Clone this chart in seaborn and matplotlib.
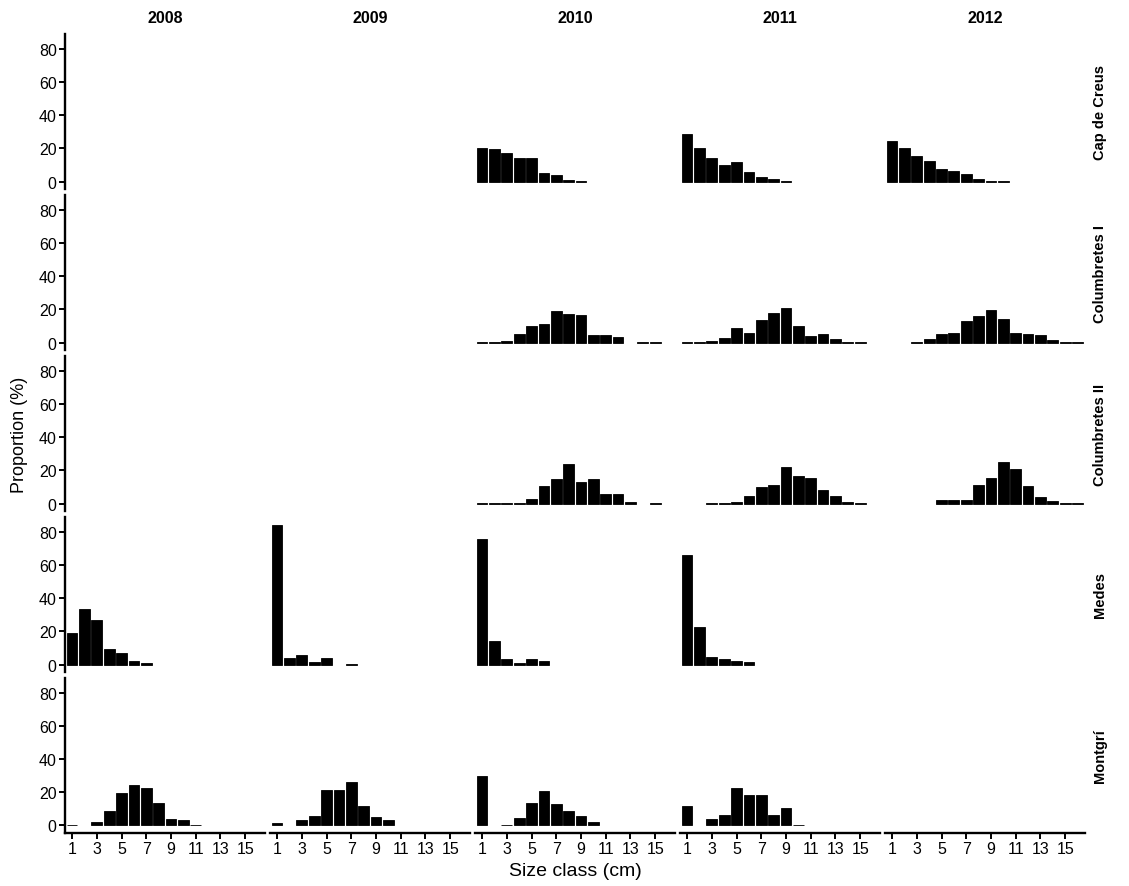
import numpy as np
import pandas as pd
import matplotlib
matplotlib.use("Agg")
import matplotlib.pyplot as plt
import seaborn as sns

nan = np.nan

sites = ["Cap de Creus", "Columbretes I", "Columbretes II", "Medes", "Montgrí"]
years = [2008, 2009, 2010, 2011, 2012]
xtick_labels = [1, 3, 5, 7, 9, 11, 13, 15]
ytick_labels = [0, 20, 40, 60, 80]

# proportion (%) per size class, starting at class 1 (nan = no bar)
cdc_2010 = [20, 19.5, 17.5, 14, 14, 5, 4, 1, 0.5]
cdc_2011 = [28.5, 20, 14, 10, 12, 6, 2.6, 1.6, 0.4]
cdc_2012 = [24.6, 20, 15.6, 12.4, 7.6, 6.2, 4.6, 1.4, 0.4, 0.2]

col1_2010 = [0.3, 0.3, 1, 5.2, 10, 11, 19, 17.4, 16.8, 4.4, 4.4, 3.4, nan, 0.3, 0.3]
col1_2011 = [0.3, 0.3, 1, 2.8, 8.8, 5.8, 13.8, 17.8, 20.8, 9.8, 4, 5, 2, 0.3, 0.3]
col1_2012 = [nan, nan, 0.3, 2, 5.4, 5.8, 13, 15.8, 19.4, 14.4, 5.8, 5, 4.4, 1.8, 0.3, 0.3]

col2_2010 = [0.3, 0.3, 0.3, 0.3, 3, 10.4, 15, 24, 13, 15, 5.8, 5.8, 1, nan, 0.3]
col2_2011 = [nan, nan, 0.3, 0.3, 0.8, 4.6, 10, 11.4, 22, 16.6, 15.6, 8.2, 4.6, 1.2, 0.3]
col2_2012 = [nan, nan, nan, nan, 2.4, 2.4, 2.4, 11.4, 15.6, 25, 20.6, 10.4, 4, 1.4, 0.3, 0.3]

medes_2008 = [19, 33.4, 26.8, 9.2, 7, 2.2, 0.8]
medes_2009 = [84, 3.8, 5.6, 1.6, 4, nan, 0.2]
medes_2010 = [76, 14, 3.4, 0.8, 3.4, 2.4]
medes_2011 = [66, 22.4, 4.8, 3.4, 2, 1.4]

mont_2008 = [0.2, nan, 2.2, 8.6, 19.6, 24.4, 22.6, 13.8, 4.2, 3.4, 0.2]
mont_2009 = [1.4, nan, 3.2, 5.8, 21.6, 21.6, 26.4, 11.8, 5, 3.4]
mont_2010 = [29.8, nan, 0.6, 4.8, 13.8, 20.8, 12.8, 9, 5.8, 2]
mont_2011 = [11.8, nan, 3.8, 6.4, 22.4, 18.2, 18.2, 6.4, 10.4, 0.6]

panels = {
    ("Cap de Creus", 2010): cdc_2010, ("Cap de Creus", 2011): cdc_2011, ("Cap de Creus", 2012): cdc_2012,
    ("Columbretes I", 2010): col1_2010, ("Columbretes I", 2011): col1_2011, ("Columbretes I", 2012): col1_2012,
    ("Columbretes II", 2010): col2_2010, ("Columbretes II", 2011): col2_2011, ("Columbretes II", 2012): col2_2012,
    ("Medes", 2008): medes_2008, ("Medes", 2009): medes_2009, ("Medes", 2010): medes_2010, ("Medes", 2011): medes_2011,
    ("Montgrí", 2008): mont_2008, ("Montgrí", 2009): mont_2009, ("Montgrí", 2010): mont_2010, ("Montgrí", 2011): mont_2011,
}

rows = []
for (site, year), vals in panels.items():
    for i, v in enumerate(vals):
        rows.append({"site": site, "year": year, "size": i + 1, "pct": v})
df = pd.DataFrame(rows).dropna()

sns.set_theme(style="white")
plt.rcParams["font.family"] = ["Liberation Sans", "DejaVu Sans"]
plt.rcParams["text.color"] = "black"
plt.rcParams["axes.labelcolor"] = "black"
plt.rcParams["xtick.color"] = "black"
plt.rcParams["ytick.color"] = "black"

fig, axes = plt.subplots(5, 5, figsize=(11.29, 8.87), dpi=100)
fig.subplots_adjust(left=0.0576, right=0.961, top=0.9605, bottom=0.0598, wspace=0.025, hspace=0.039)

for r, site in enumerate(sites):
    for c, year in enumerate(years):
        ax = axes[r, c]
        sub = df[(df.site == site) & (df.year == year)]
        if len(sub):
            sns.barplot(data=sub, x="size", y="pct", native_scale=True, color="black",
                        width=0.87, edgecolor="black", linewidth=0.6, errorbar=None, ax=ax)
        ax.set_xlim(0.43, 16.6)
        ax.set_ylim(-4.5, 89)
        ax.set_xlabel("")
        ax.set_ylabel("")
        sns.despine(ax=ax, left=(c != 0), bottom=(r != 4))
        for s in ax.spines.values():
            s.set_linewidth(1.7)
            s.set_color("black")
        ax.tick_params(direction="out", length=4, width=1.4, colors="black", labelsize=11.5, pad=2)
        if c == 0:
            ax.set_yticks(ytick_labels)
        else:
            ax.set_yticks([])
        if r == 4:
            ax.set_xticks(xtick_labels)
        else:
            ax.set_xticks([])
        ax.tick_params(left=(c == 0), bottom=(r == 4))
        if r == 0:
            ax.set_title(str(year), fontweight="bold", fontsize=11.5, pad=9, color="black")
        if c == 4:
            ax.text(1.075, 0.5, site, transform=ax.transAxes, rotation=90, ha="center", va="center",
                    fontweight="bold", fontsize=10.5, color="black")

fig.text(20 / 1129, 1 - 435 / 887, "Proportion (%)", rotation=90, ha="center", va="center", fontsize=13)
fig.text(575 / 1129, 1 - 872 / 887, "Size class (cm)", ha="center", va="center", fontsize=14)

fig.savefig("out.png", dpi=100)
